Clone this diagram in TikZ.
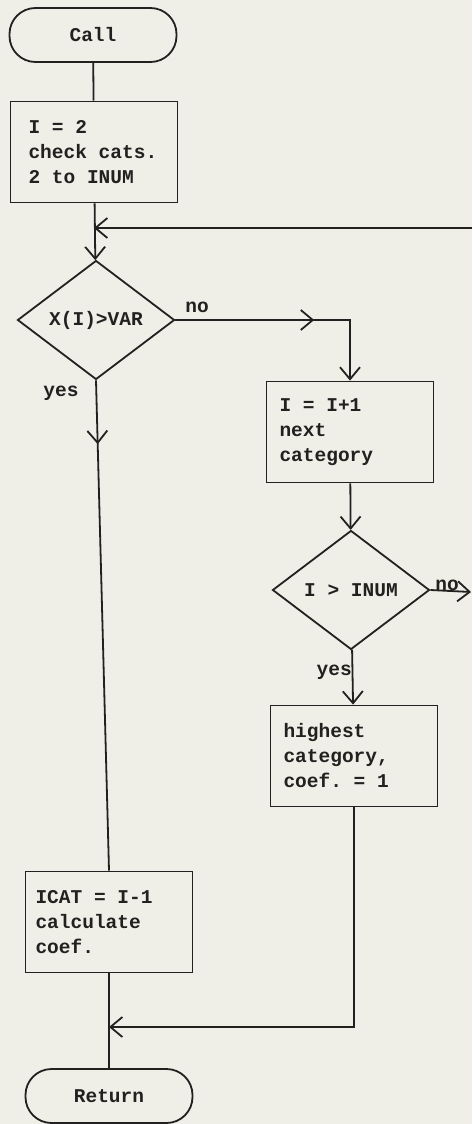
\documentclass[tikz,border=0pt]{standalone}
\usepackage{fontspec}
\setmonofont{Liberation Mono}
\usetikzlibrary{shapes.geometric,arrows.meta,decorations.markings}
\definecolor{paper}{RGB}{239,239,232}
\definecolor{ink}{RGB}{35,32,32}

\begin{document}
\begin{tikzpicture}[x=1pt,y=-1pt,
  every node/.style={font=\ttfamily\bfseries\fontsize{19.5}{25}\selectfont,text=ink},
  wire/.style={draw=ink,line width=1.8pt},
  flowto/.style={wire,-{Straight Barb[length=12pt,width=20pt]}},
  midtip/.style={postaction={decorate},decoration={markings,mark=at position #1 with {\arrow{Straight Barb[length=12pt,width=20pt]}}}},
  procbox/.style={wire,rectangle,minimum height=101pt,text width=141pt,inner xsep=13pt,
    align=flush left,execute at begin node={\spaceskip=0pt\xspaceskip=0pt}},
  decision/.style={wire,diamond,inner sep=0pt,minimum width=157pt,minimum height=119pt},
  terminal/.style={wire,rectangle,rounded corners=26pt,minimum width=167pt,minimum height=54pt},
  tag/.style={inner sep=1pt}]
\useasboundingbox (0,0) rectangle (472,1124);
\fill[paper] (0,0) rectangle (472,1124);

\node[terminal] (call) at (93,35) {Call};
\node[procbox,text width=131pt,inner xsep=18pt] (init) at (94,152) {I = 2\\check cats.\\2 to INUM};
\node[decision] (test1) at (96,320) {X(I)>VAR};
\node[procbox] (next) at (350,432) {I = I+1\\next\\category};
\node[decision] (test2) at (351,590) {I > INUM};
\node[procbox] (high) at (354,756) {highest\\category,\\coef. = 1};
\node[procbox,text width=147pt,inner xsep=10pt] (icat) at (109,922) {ICAT = I-1\\calculate\\coef.};
\node[terminal] (ret) at (109,1096) {Return};

\coordinate (loopin) at (472,228);
\coordinate (join) at (init.south |- loopin);
\coordinate (loopout) at (471,592);
\coordinate (merge) at (109,1027);

\draw[wire] (call) -- (init);
\draw[flowto] (init) -- (test1);
\draw[flowto] (loopin) -- (join);
\draw[flowto,midtip=0.59] (test1.east) -| (next.north);
\draw[wire,midtip=0.13] (test1.south) -- (icat.north);
\draw[flowto] (next) -- (test2);
\draw[flowto] (test2.east) -- (loopout);
\draw[flowto] (test2) -- (high);
\draw[wire] (icat) -- (merge) -- (ret);
\draw[flowto] (high.south) |- (merge);

\node[tag] at (197,307) {no};
\node[tag] at (61,393) {yes};
\node[tag,anchor=east] at (353,672) {yes};
\node[tag,anchor=base] at (447,590) {no};
\end{tikzpicture}
\end{document}
